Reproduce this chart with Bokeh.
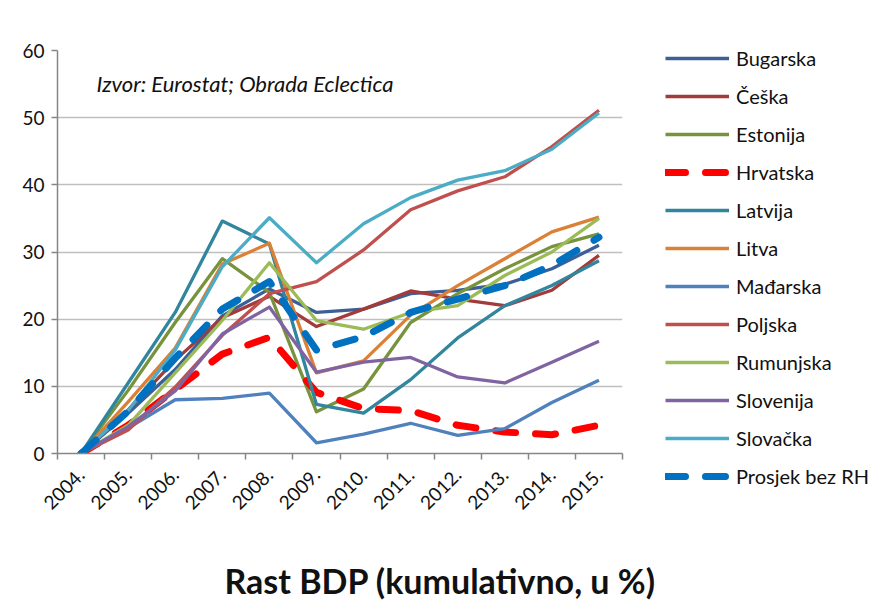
import math
from bokeh.plotting import figure
from bokeh.models import FixedTicker, Legend, LegendItem, Label, Range1d, Title
from bokeh.embed import file_html
from bokeh.resources import INLINE

# ---- data ----
years = ["2004.", "2005.", "2006.", "2007.", "2008.", "2009.",
         "2010.", "2011.", "2012.", "2013.", "2014.", "2015."]
x_pos = list(range(1, len(years) + 1))

bugarska  = [0, 6.0, 12.5, 20.5, 24.5, 21.0, 21.5, 23.8, 24.3, 25.2, 27.5, 31.0]
ceska     = [0, 6.5, 13.9, 20.2, 23.4, 18.9, 21.5, 24.2, 23.0, 22.0, 24.3, 29.5]
estonija  = [0, 9.4, 19.5, 29.0, 24.0, 6.2, 9.6, 19.5, 23.8, 27.5, 30.8, 32.7]
hrvatska  = [0, 4.2, 9.5, 14.8, 17.3, 9.1, 6.7, 6.4, 4.2, 3.2, 2.8, 4.2]
latvija   = [0, 10.5, 21.0, 34.6, 31.2, 7.3, 6.0, 11.0, 17.2, 22.0, 25.0, 28.7]
litva     = [0, 7.7, 15.7, 28.2, 31.3, 12.0, 13.8, 20.6, 25.0, 29.0, 33.0, 35.2]
madjarska = [0, 3.8, 8.0, 8.2, 9.0, 1.6, 2.9, 4.5, 2.7, 3.7, 7.6, 10.9]
poljska   = [0, 3.5, 9.9, 17.6, 23.8, 25.6, 30.3, 36.3, 39.1, 41.2, 45.7, 51.1]
rumunjska = [0, 4.2, 12.0, 19.8, 28.4, 19.8, 18.5, 21.0, 22.0, 26.5, 30.0, 35.0]
slovenija = [0, 4.0, 9.3, 17.8, 21.8, 12.1, 13.6, 14.3, 11.4, 10.5, 13.6, 16.7]
slovacka  = [0, 6.4, 15.4, 27.8, 35.1, 28.4, 34.2, 38.1, 40.7, 42.1, 45.3, 50.7]
prosjek   = [0, 6.3, 14.2, 21.5, 25.6, 15.4, 17.4, 21.0, 23.0, 25.0, 28.0, 32.2]

y_ticks = [0, 10, 20, 30, 40, 50, 60]

series = [
    ("Bugarska", bugarska, "#3B5F96", False),
    ("Češka", ceska, "#A23B3A", False),
    ("Estonija", estonija, "#77933C", False),
    ("Hrvatska", hrvatska, "#FF0000", True),
    ("Latvija", latvija, "#31859C", False),
    ("Litva", litva, "#DA8137", False),
    ("Mađarska", madjarska, "#4F81BD", False),
    ("Poljska", poljska, "#C0504D", False),
    ("Rumunjska", rumunjska, "#9BBB59", False),
    ("Slovenija", slovenija, "#8064A2", False),
    ("Slovačka", slovacka, "#4BACC6", False),
    ("Prosjek bez RH", prosjek, "#0070C0", True),
]

FONT = "Lato"

p = figure(frame_width=565, frame_height=403, output_backend="svg", toolbar_location=None,
           x_range=Range1d(0.5, 12.5), y_range=Range1d(0, 60),
           min_border_left=57, min_border_top=50, min_border_right=10,
           min_border_bottom=147)
p.outline_line_color = None
p.background_fill_color = "white"
p.border_fill_color = "white"

items = []
for name, vals, color, dashed in series:
    if dashed:
        r = p.line(x_pos, vals, line_color=color, line_width=7, line_dash="20 20",
                   line_cap="round", line_join="round")
    else:
        r = p.line(x_pos, vals, line_color=color, line_width=3.3, line_join="round")
    items.append(LegendItem(label=name, renderers=[r]))

# axes
p.xaxis.ticker = FixedTicker(ticks=x_pos, minor_ticks=[i + 0.5 for i in range(0, len(years) + 1)])
p.xaxis.major_label_overrides = {i: y for i, y in zip(x_pos, years)}
p.xaxis.major_label_orientation = math.pi / 4
p.xaxis.major_tick_out = 0
p.xaxis.major_tick_in = 0
p.xaxis.minor_tick_out = 6
p.xaxis.minor_tick_in = 0
p.xaxis.minor_tick_line_color = "#868686"
p.xaxis.minor_tick_line_width = 1.5
p.xaxis.axis_line_color = "#868686"
p.xaxis.axis_line_width = 1.5
p.xaxis.major_label_text_font = FONT
p.xaxis.major_label_text_font_size = "19px"
p.xaxis.major_label_text_color = "#111111"
p.xaxis.major_label_standoff = 12

p.yaxis.ticker = FixedTicker(ticks=y_ticks)
p.yaxis.major_tick_out = 6
p.yaxis.major_tick_in = 0
p.yaxis.minor_tick_out = 0
p.yaxis.minor_tick_in = 0
p.yaxis.major_tick_line_color = "#868686"
p.yaxis.major_tick_line_width = 1.5
p.yaxis.axis_line_color = "#868686"
p.yaxis.axis_line_width = 1.5
p.yaxis.major_label_text_font = FONT
p.yaxis.major_label_text_font_size = "19px"
p.yaxis.major_label_text_color = "#111111"
p.yaxis.major_label_standoff = 7

p.xgrid.grid_line_color = None
p.ygrid.ticker = FixedTicker(ticks=y_ticks)
p.ygrid.grid_line_color = "#BFBFBF"
p.ygrid.grid_line_width = 1.5

legend = Legend(items=items, location=(43, -35))
legend.label_text_font = FONT
legend.label_text_font_size = "20px"
legend.label_text_color = "#111111"
legend.glyph_width = 64
legend.glyph_height = 20
legend.label_height = 20
legend.label_standoff = 7
legend.spacing = 14
legend.padding = 0
legend.margin = 0
legend.border_line_color = None
legend.background_fill_alpha = 0
p.add_layout(legend, "right")

src = Label(x=39, y=370, x_units="screen", y_units="screen",
            text="Izvor: Eurostat; Obrada Eclectica", text_font=FONT,
            text_font_style="italic", text_font_size="22px", text_color="#111111",
            text_baseline="middle")
p.add_layout(src)

title = Title(text="Rast BDP (kumulativno, u %)", text_font=FONT,
              text_font_style="bold", text_font_size="34px", text_color="#111111",
              align="left", offset=167, standoff=78)
p.add_layout(title, "below")

open("out.html", "w").write(file_html(p, INLINE))
